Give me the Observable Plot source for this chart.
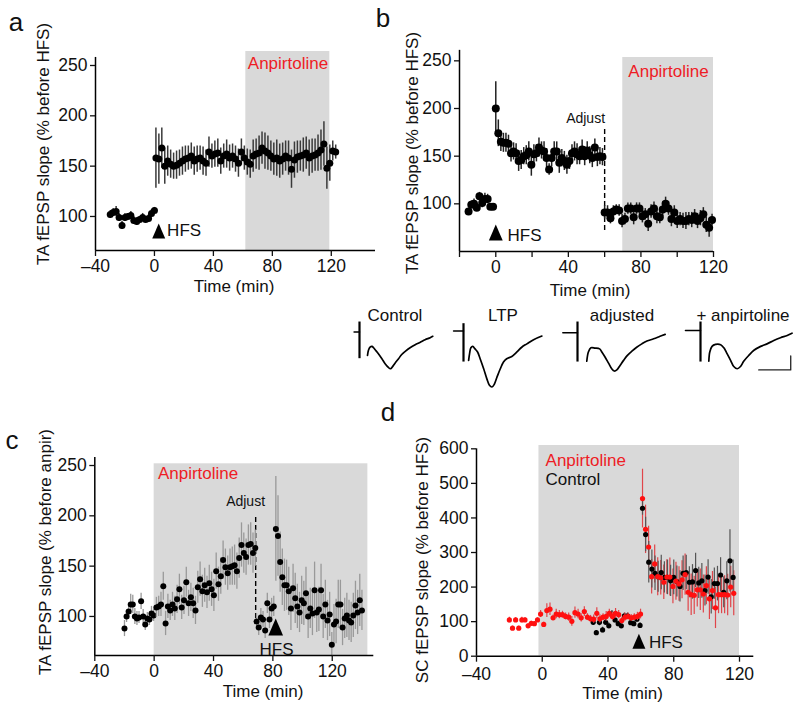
<!DOCTYPE html>
<html><head><meta charset="utf-8">
<script src="https://cdn.jsdelivr.net/npm/d3@7"></script>
<script src="https://cdn.jsdelivr.net/npm/@observablehq/plot@0.6"></script>
<style>
body{margin:0;background:#fff}
#root{position:relative;width:800px;height:705px;overflow:hidden;font-family:"Liberation Sans",Arial,sans-serif;color:#111;background:#fff}
.lbl{position:absolute;white-space:nowrap;line-height:1}
</style></head><body><div id="root"></div>
<script>
// ---------- Panel a ----------
const aPreTime = [-30, 2];
const aPreV = [102,104,105,99,91,99,100,101,96,95,97,99,97,98,103,106];
const aPreE = [4,4,5,4,4,4,3,4,4,4,3,4,3,4,4,3];
const aPostTime = [1, 2];
const aPostV = [158,157,168,150,155,152,150,151,153,155,157,158,160,155,157,158,155,153,164,160,162,163,155,160,162,158,160,157,153,164,158,154,152,160,162,163,168,165,163,160,157,158,155,157,160,158,147,156,159,160,161,163,158,160,161,163,166,172,148,153,165,164];
const aPostE = [30,25,20,18,15,14,13,14,13,14,13,12,13,14,13,12,14,13,15,12,13,14,13,12,14,13,12,13,14,13,12,13,14,16,15,17,16,18,17,15,16,18,17,16,15,17,19,18,16,15,17,16,18,17,16,18,20,22,21,18,10,7];
const aDrug = [62, 119];
const aXTicks = [-40,0,40,80,120];
const aYTicks = [100,150,200,250];

// ---------- Panel b ----------
const bPreTime = [-15, 1.5];
const bPreV = [92,99,100,96,108,101,105,105,97,97];
const bPreE = [3,4,5,4,4,5,6,5,3,3];
const bPostTime = [0, 1.4];
const bPostV = [200,174,165,164,164,163,153,155,153,145,146,150,151,155,141,152,153,159,156,155,148,136,148,155,155,143,148,145,141,145,153,155,152,150,157,150,156,151,148,159,149,150,149];
const bPostE = [28,14,10,10,10,9,9,9,10,11,10,9,10,10,12,10,9,10,9,10,10,6,9,10,10,11,9,10,10,9,9,10,11,9,10,10,9,9,10,9,10,9,9];
const bAdjTime = [60, 1.6];
const bAdjV = [91,91,85,92,94,93,82,84,95,95,86,95,95,87,89,79,92,95,87,86,94,100,95,84,91,82,84,82,82,84,83,87,82,85,89,78,75,83];
const bAdjE = [7,7,6,6,5,6,7,6,6,6,8,6,6,7,6,8,7,7,8,7,8,7,7,8,7,8,7,8,9,7,8,7,8,8,7,8,10,6];
const bDrug = [70, 120];
const bAdjustAt = [60];
const bXTicks = [-20,0,20,40,60,80,100,120];
const bXLabels = [0,40,80,120];
const bYTicks = [100,150,200,250];

// ---------- Traces ----------
const traceLabels = ["Control", "LTP", "adjusted", "+ anpirtoline"];
const traceBase = [[-1.7, 0], [-3.1, 0.04], [-4.6, -0.02], [-4.7, 0.06]];
const traceArtifact = [[0.36,-0.95],[0.30,-1.07],[0.36,-1.07],[0.36,-1.07]];
const waveControl = [[2.5,-0.83],[2.8,-0.65],[3.3,-0.54],[3.9,-0.51],[4.4,-0.56],[4.9,-0.63],[5.9,-0.77],[7.0,-0.95],[8.0,-1.13],[9.1,-1.27],[9.6,-1.31],[10.1,-1.27],[11.1,-1.11],[12.2,-0.95],[13.2,-0.80],[14.3,-0.69],[15.8,-0.56],[17.4,-0.45],[19.0,-0.36],[20.5,-0.27],[22.1,-0.20],[22.9,-0.15]];
const waveLTP = [[1.6,-1.01],[1.9,-0.77],[2.3,-0.56],[2.9,-0.51],[3.6,-0.60],[4.4,-0.71],[5.2,-0.95],[6.3,-1.31],[7.3,-1.67],[8.1,-1.90],[8.9,-1.96],[9.6,-1.87],[10.4,-1.63],[11.5,-1.31],[12.5,-1.07],[13.5,-0.95],[15.1,-0.87],[16.7,-0.71],[18.2,-0.54],[19.8,-0.42],[21.9,-0.27],[24.5,-0.14]];
const waveAdjusted = [[2.9,-1.04],[3.4,-0.71],[4.2,-0.56],[5.5,-0.57],[6.9,-0.60],[7.6,-0.71],[8.6,-0.89],[9.7,-1.11],[10.7,-1.31],[11.5,-1.39],[12.3,-1.35],[13.3,-1.19],[14.4,-1.01],[15.6,-0.83],[17.0,-0.68],[18.5,-0.54],[20.1,-0.42],[21.7,-0.32],[23.8,-0.24],[25.8,-0.15],[27.4,-0.08]];
const waveAnpirtoline = [[2.6,-1.04],[2.9,-0.71],[3.6,-0.51],[4.7,-0.44],[6.3,-0.45],[7.3,-0.56],[8.3,-0.77],[9.4,-1.01],[10.4,-1.23],[11.5,-1.31],[12.5,-1.23],[13.5,-1.04],[15.1,-0.83],[16.7,-0.65],[18.8,-0.51],[20.8,-0.42],[22.9,-0.30],[25.0,-0.20],[27.1,-0.12],[28.6,-0.04]];
const scaleBar = [10, 0.5]; // ms, mV
const scaleBarCorner = [28.2, -1.35];

// ---------- Panel c ----------
const cPreTime = [-20, 1.4];
const cPreV = [88,100,105,112,112,100,98,99,115,100,92,98,97,103,101];
const cPreE = [8,6,8,10,9,8,7,6,8,7,6,6,6,7,6];
const cAnpTime = [1.5, 1.55];
const cAnpV = [109,110,112,130,93,110,106,112,108,117,127,109,116,134,113,119,113,106,129,137,125,131,124,133,127,121,145,132,140,156,149,143,149,150,151,145,158,171,163,159,171,172,163,168];
const cAnpE = [10,10,12,14,12,12,10,12,12,14,15,12,14,15,13,14,15,14,16,17,16,17,16,18,17,16,18,17,18,19,18,17,18,19,20,18,20,22,20,18,20,21,20,18];
const cAdjTime = [69, 1.45];
const cAdjV = [95,89,99,97,86,113,97,108,110];
const cAdjE = [8,8,9,8,8,10,9,10,10];
const cHfsTime = [82, 1.45];
const cHfsV = [187,180,154,139,131,131,125,108,128,118,110,104,116,113,123,100,108,103,126,104,107,126,100,112,96,102,72,92,95,112,112,89,98,101,96,94,101,111,104,116,106];
const cHfsE = [52,40,30,28,26,25,24,22,24,25,22,20,24,22,26,22,20,22,28,20,22,26,22,24,20,22,12,20,22,24,24,18,20,22,20,20,22,24,22,26,20];
const cDrug = [0, 144];
const cAdjustAt = [68.4];
const cXTicks = [-40,0,40,80,120];
const cYTicks = [100,150,200,250];

// ---------- Panel d ----------
const dRedPreTime = [-20, 1.9];
const dRedPreV = [105,81,105,81,105,105,88,95,94,105,122,92,132,136,111,122,120,120,115,113,101,126,122,111,129,113,108,107,124,108,113,115,124,115,124,120,103,113,115,111,113,115,122];
const dRedPreE = [8,6,6,6,8,6,6,6,5,6,10,6,20,18,8,14,12,10,10,12,14,16,14,12,14,10,10,12,16,12,10,14,12,12,14,12,10,12,10,10,10,12,14];
const dBlkPreTime = [31, 1.9];
const dBlkPreV = [98,68,98,76,98,88,122,105,94,88,117,117,97,94,107,89];
const dBlkPreE = [8,6,10,8,8,8,10,8,8,8,8,8,8,8,8,8];
const dRedPostTime = [61, 1.85];
const dRedPostV = [456,367,316,230,267,230,227,214,229,229,202,217,209,221,236,185,178,176,192,192,180,204,166,190,140,178,178,178,177,200,182];
const dRedPostE = [85,70,60,50,55,55,50,50,50,55,50,55,50,55,60,55,60,55,50,60,55,55,60,55,60,55,55,55,60,60,65];
const dBlkPostTime = [61, 1.9];
const dBlkPostV = [428,352,272,252,240,230,242,228,228,218,228,216,202,240,242,214,215,248,212,218,190,229,172,210,210,235,185,218,276,228];
const dBlkPostE = [20,50,60,55,50,45,50,45,50,45,50,45,45,50,50,45,50,50,45,50,45,50,50,45,50,50,45,55,90,50];
const dDrug = [-2, 120];
const dXTicks = [-40,0,40,80,120];
const dYTicks = [0,100,200,300,400,500,600];

// ---------- helpers ----------
const RED = "#ee1c25";
const GREY = "#d9d9d9";
const TICK_FONT = 17.5;
const root = document.getElementById("root");
const fmt = d => d < 0 ? "\u2013" + Math.abs(d) : String(d);
const series = (ts, vals, errs) => vals.map((v, i) => ({t: ts[0] + i * ts[1], v, e: errs[Math.min(i, errs.length - 1)]}));
const tallTriangle = {draw(ctx, size) {const s = Math.sqrt(size / Math.PI); ctx.moveTo(0, -1.25 * s); ctx.lineTo(1.08 * s, 1.25 * s); ctx.lineTo(-1.08 * s, 1.25 * s); ctx.closePath();}};
const baseStyle = {background: "transparent", overflow: "visible", fontFamily: '"Liberation Sans", Arial, sans-serif', fontSize: "17px", color: "#111"};

function errDots(data, {bar = "#333", fill = "black", r = 3, sw = 1.5} = {}) {
  return [
    Plot.ruleX(data, {x: "t", y1: d => d.v - d.e, y2: d => d.v + d.e, stroke: bar, strokeWidth: sw}),
    Plot.dot(data, {x: "t", y: "v", r, fill, stroke: "none"})
  ];
}
function axes(xd, yd, yTop, xTicks, yTicks, xLabels, xPad = 3) {
  return [
    Plot.ruleY([yd[0]], {stroke: "black", strokeWidth: 1.5}),
    Plot.ruleX([xd[0]], {y1: () => yd[0], y2: () => yTop, stroke: "black", strokeWidth: 1.5}),
    Plot.axisX({ticks: xTicks, tickSize: 6, tickPadding: xPad, label: null, strokeWidth: 1.3, fontSize: TICK_FONT,
      fontFamily: '"Liberation Sans", Arial, sans-serif', fill: "#111",
      tickFormat: d => (!xLabels || xLabels.includes(d)) ? fmt(d) : ""}),
    Plot.axisY({ticks: yTicks, tickSize: 5, tickPadding: 3, label: null, strokeWidth: 1.3, fontSize: TICK_FONT,
      fontFamily: '"Liberation Sans", Arial, sans-serif', fill: "#111", tickFormat: fmt})
  ];
}
function band(drug, yd, top) {
  return Plot.rect([drug], {x1: d => d[0], x2: d => d[1], y1: () => yd[0], y2: () => top, fill: GREY});
}
function hfs(t, v, r, tt, tv, anchor = "start") {
  return [
    Plot.dot([{t, v}], {x: "t", y: "v", symbol: tallTriangle, r, fill: "black", stroke: "none"}),
    Plot.text([{t: tt, v: tv}], {x: "t", y: "v", text: () => "HFS", fontSize: 17, textAnchor: anchor, fill: "#111"})
  ];
}
function note(t, v, s, {fill = "#111", size = 17, anchor = "middle"} = {}) {
  return Plot.text([{t, v, s}], {x: "t", y: "v", text: "s", fill, fontSize: size, textAnchor: anchor});
}
function place(svg, left, top) {
  svg.style.position = "absolute"; svg.style.left = left + "px"; svg.style.top = top + "px";
  root.appendChild(svg);
}
function lbl(text, cx, cy, {size = 17, rot = 0, color = "#111"} = {}) {
  const el = document.createElement("div");
  el.className = "lbl"; el.textContent = text;
  el.style.left = cx + "px"; el.style.top = cy + "px"; el.style.fontSize = size + "px"; el.style.color = color;
  el.style.transform = `translate(-50%,-50%) rotate(${rot}deg)`;
  root.appendChild(el);
}

// ---------- Panel a ----------
{
  const xd = [-40, 150], yd = [66.2, 263.9];
  const svg = Plot.plot({
    width: 400, height: 300, marginLeft: 95, marginRight: 25, marginTop: 51, marginBottom: 50,
    x: {domain: xd}, y: {domain: yd}, style: baseStyle,
    marks: [
      band(aDrug, yd, yd[1]),
      ...errDots(series(aPreTime, aPreV, aPreE), {bar: "#333", r: 3.5}),
      ...errDots(series(aPostTime, aPostV, aPostE), {bar: "#3a3a3a", r: 3.5}),
      ...axes(xd, yd, 258, aXTicks, aYTicks),
      note(90.6, 252, "Anpirtoline", {fill: RED}),
      ...hfs(2.9, 85.6, 6, 8.6, 86)
    ]
  });
  place(svg, 0, 0);
}
// ---------- Panel b ----------
{
  const xd = [-20, 120], yd = [50, 253.5];
  const svg = Plot.plot({
    width: 400, height: 300, marginLeft: 59, marginRight: 87, marginTop: 57, marginBottom: 49,
    x: {domain: xd}, y: {domain: yd}, style: baseStyle,
    marks: [
      band(bDrug, yd, yd[1]),
      Plot.ruleX(bAdjustAt, {y1: () => 72, y2: () => 179, stroke: "black", strokeWidth: 1.4, strokeDasharray: "5,3"}),
      ...errDots(series(bPreTime, bPreV, bPreE), {bar: "#222", r: 4}),
      ...errDots(series(bPostTime, bPostV, bPostE), {bar: "#222", r: 4}),
      ...errDots(series(bAdjTime, bAdjV, bAdjE), {bar: "#222", r: 4}),
      ...axes(xd, yd, 261, bXTicks, bYTicks, bXLabels),
      note(95.2, 238.5, "Anpirtoline", {fill: RED}),
      note(49.5, 190, "Adjust", {size: 14}),
      ...hfs(0, 69.9, 6.4, 6.5, 66.8)
    ]
  });
  place(svg, 400, 0);
}
// ---------- Traces ----------
{
  const waves = [waveControl, waveLTP, waveAdjusted, waveAnpirtoline];
  const artX = [359.3, 463.3, 577.3, 700];
  const labelX = [395, 503, 622, 743];
  waves.forEach((w, i) => {
    const base = [[traceBase[i][0], traceBase[i][1]], [0, traceBase[i][1]]];
    const marks = [
      Plot.line(base, {x: d => d[0], y: d => d[1], stroke: "black", strokeWidth: 1.5}),
      Plot.ruleX([0], {y1: () => traceArtifact[i][0], y2: () => traceArtifact[i][1], stroke: "black", strokeWidth: 2.2}),
      Plot.line(w, {x: d => d[0], y: d => d[1], stroke: "black", strokeWidth: 1.7, curve: "catmull-rom"})
    ];
    if (i === 3) {
      const [cx, cy] = scaleBarCorner;
      marks.push(Plot.line([[cx - scaleBar[0], cy], [cx, cy], [cx, cy + scaleBar[1]]], {x: d => d[0], y: d => d[1], stroke: "#222", strokeWidth: 1.3}));
    }
    const svg = Plot.plot({
      width: 108.8, height: 71.4, margin: 0,
      x: {domain: [-5, 29], axis: null}, y: {domain: [-2.1, 0.45], axis: null},
      style: baseStyle, marks
    });
    place(svg, artX[i] - 16, 331.7 - 12.6);
    lbl(traceLabels[i], labelX[i], 315);
  });
}
// ---------- Panel c ----------
{
  const xd = [-40, 148], yd = [61.2, 251.7];
  const svg = Plot.plot({
    width: 400, height: 275, marginLeft: 94.3, marginRight: 26.7, marginTop: 33.3, marginBottom: 50,
    x: {domain: xd}, y: {domain: yd}, style: baseStyle,
    marks: [
      band(cDrug, yd, yd[1]),
      Plot.ruleX(cAdjustAt, {y1: () => 98, y2: () => 200, stroke: "black", strokeWidth: 1.4, strokeDasharray: "5,3"}),
      ...errDots(series(cPreTime, cPreV, cPreE), {bar: "#999", r: 3, sw: 1.3}),
      ...errDots(series(cAnpTime, cAnpV, cAnpE), {bar: "#999", r: 3, sw: 1.3}),
      ...errDots(series(cAdjTime, cAdjV, cAdjE), {bar: "#999", r: 3, sw: 1.3}),
      ...errDots(series(cHfsTime, cHfsV, cHfsE), {bar: "#999", r: 3, sw: 1.3}),
      ...axes(xd, yd, 258, cXTicks, cYTicks),
      note(29.6, 242.1, "Anpirtoline", {fill: RED}),
      note(61.6, 214, "Adjust", {size: 14}),
      ...hfs(81.9, 89.5, 6.8, 82.5, 67, "middle")
    ]
  });
  place(svg, 0, 430);
}
// ---------- Panel d ----------
{
  const xd = [-40, 128.7], yd = [0, 609.6];
  const svg = Plot.plot({
    width: 400, height: 275, marginLeft: 76, marginRight: 46.7, marginTop: 15, marginBottom: 49.3,
    x: {domain: xd}, y: {domain: yd}, style: baseStyle,
    marks: [
      band(dDrug, yd, yd[1]),
      Plot.ruleX(series(dRedPostTime, dRedPostV, dRedPostE), {x: "t", y1: d => d.v - d.e, y2: d => d.v + d.e, stroke: "#e0454a", strokeWidth: 1.2}),
      Plot.ruleX(series(dBlkPostTime, dBlkPostV, dBlkPostE), {x: "t", y1: d => d.v - d.e, y2: d => d.v + d.e, stroke: "#555", strokeWidth: 1.2}),
      ...errDots(series(dBlkPreTime, dBlkPreV, dBlkPreE), {bar: "#444", r: 2.6, sw: 1.2}),
      ...errDots(series(dRedPreTime, dRedPreV, dRedPreE), {bar: "#e0454a", fill: "#ff1010", r: 2.6, sw: 1.2}),
      Plot.dot(series(dBlkPostTime, dBlkPostV, dBlkPostE), {x: "t", y: "v", r: 2.6, fill: "black"}),
      Plot.dot(series(dRedPostTime, dRedPostV, dRedPostE), {x: "t", y: "v", r: 2.6, fill: "#ff1010"}),
      ...axes(xd, yd, 600, dXTicks, dYTicks, null, 5),
      note(2.0, 566, "Anpirtoline", {fill: RED, anchor: "start"}),
      note(2.0, 511, "Control", {anchor: "start"}),
      ...hfs(58.8, 43, 6, 64.9, 39)
    ]
  });
  place(svg, 400, 430);
}
// ---------- HTML text ----------
lbl("TA fEPSP slope (% before HFS)", 43, 144, {rot: -90});
lbl("Time (min)", 234, 286);
lbl("TA fEPSP slope (% before HFS)", 412, 153, {rot: -90});
lbl("Time (min)", 590, 290);
lbl("TA fEPSP slope (% before anpir)", 45, 552, {rot: -90});
lbl("Time (min)", 263, 691);
lbl("SC fEPSP slope (% before HFS)", 422, 560, {rot: -90});
lbl("Time (min)", 622.5, 693);
lbl("a", 16, 22, {size: 26});
lbl("b", 383, 18, {size: 26});
lbl("c", 12, 440, {size: 26});
lbl("d", 388, 412, {size: 26});
</script></body></html>
